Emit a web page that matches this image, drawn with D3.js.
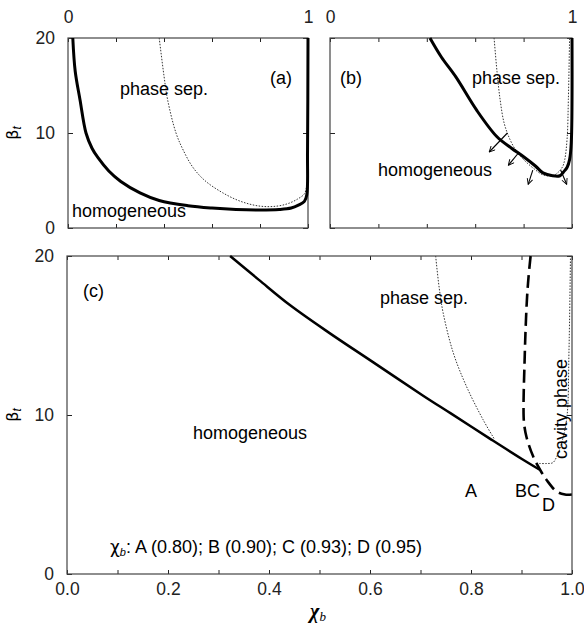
<!DOCTYPE html>
<html>
<head>
<meta charset="utf-8">
<script src="https://cdn.jsdelivr.net/npm/d3@7.9.0/dist/d3.min.js"></script>
<style>
  body { margin: 0; background: #fff; }
  svg { font-family: "Liberation Sans", Arial, sans-serif; }
</style>
</head>
<body>
<svg id="chart" width="584" height="626"></svg>
<script>
// panel (a): spinodal / binodal vs chi_b
const aSolidX = [0.02, 0.03, 0.05, 0.075, 0.10, 0.125, 0.17, 0.22, 0.30, 0.38, 0.50, 0.60, 0.70, 0.80, 0.88, 0.93, 0.96, 0.985, 0.995, 0.998, 1.0];
const aSolidY = [20, 16.5, 13.5, 10, 8.4, 7.4, 6.0, 4.9, 3.7, 2.9, 2.35, 2.1, 1.95, 1.9, 1.95, 2.1, 2.4, 2.8, 3.5, 8, 20];
const aDotX = [0.38, 0.40, 0.415, 0.45, 0.48, 0.52, 0.57, 0.645, 0.72, 0.80, 0.87, 0.92, 0.96, 0.985, 0.995, 1.0];
const aDotY = [20, 16, 13.5, 10, 8.2, 6.4, 5.0, 3.7, 2.8, 2.3, 2.3, 2.6, 3.1, 3.6, 4.5, 6];

// panel (b)
const bSolidX = [0.413, 0.46, 0.52, 0.606, 0.69, 0.75, 0.80, 0.85, 0.88, 0.92, 0.95, 0.965, 0.98, 0.99, 0.997, 1.0];
const bSolidY = [20, 18.0, 15.9, 12.4, 9.6, 8.4, 7.5, 6.5, 5.8, 5.5, 5.5, 5.9, 6.4, 7.2, 9, 20];
const bDotX = [0.678, 0.69, 0.703, 0.72, 0.744, 0.77, 0.80, 0.84, 0.88, 0.92, 0.94, 0.96, 0.97, 0.98, 0.985, 0.99];
const bDotY = [20, 16.5, 13.5, 11, 9.3, 8.1, 7.2, 6.3, 5.6, 5.5, 5.8, 6.4, 7.2, 9.5, 13.5, 20];
// arrows: start chi, start beta, end chi, end beta
const bArrows = [
  [0.733, 10.0, 0.658, 8.0],
  [0.782, 8.0, 0.737, 6.6],
  [0.838, 6.1, 0.819, 4.6],
  [0.953, 6.1, 0.978, 4.6]
];

// panel (c)
const cSolidX = [0.323, 0.38, 0.442, 0.52, 0.6, 0.706, 0.76, 0.838, 0.90, 0.937];
const cSolidY = [20, 18.5, 16.9, 15.15, 13.45, 11.2, 10.1, 8.5, 7.25, 6.54];
const cDashX = [0.918, 0.914, 0.911, 0.908, 0.906, 0.904, 0.905, 0.910, 0.923, 0.937, 0.95, 0.97, 0.986, 1.0];
const cDashY = [20, 18.7, 17.4, 15.3, 13.25, 10.5, 9.5, 8.6, 7.4, 6.54, 5.9, 5.18, 5.0, 5.0];
const cDotX = [0.730, 0.737, 0.745, 0.765, 0.791, 0.824, 0.846];
const cDotY = [20, 18, 16.4, 13.9, 11.8, 9.7, 8.5];
const cCavX = [0.935, 0.95, 0.962, 0.97, 0.98, 0.99, 0.994, 0.997];
const cCavY = [6.95, 6.95, 7.0, 7.4, 8.3, 9.9, 14, 20];

const xTicksTop = [0, 0.2, 0.4, 0.6, 0.8, 1];
const xTicksC = d3.range(0, 11).map(i => i / 10);
const xLabelsC = [0, 0.2, 0.4, 0.6, 0.8, 1.0];
const yTicks = [0, 10, 20];

const svg = d3.select('#chart');
const fs = 18;

svg.append('defs').append('marker')
    .attr('id', 'arrow')
    .attr('viewBox', '0 0 10 10')
    .attr('refX', 9).attr('refY', 5)
    .attr('markerWidth', 7).attr('markerHeight', 7)
    .attr('markerUnits', 'userSpaceOnUse')
    .attr('orient', 'auto')
  .append('path')
    .attr('d', 'M1,1 L9,5 L1,9')
    .attr('fill', 'none')
    .attr('stroke', '#000')
    .attr('stroke-width', 1.3);

const xa = d3.scaleLinear().domain([0, 1]).range([68, 308]);
const xb = d3.scaleLinear().domain([0, 1]).range([330, 572]);
const yab = d3.scaleLinear().domain([0, 20]).range([228, 38]);
const xc = d3.scaleLinear().domain([0, 1]).range([67, 572]);
const yc = d3.scaleLinear().domain([0, 20]).range([574, 256]);

function clean(g) {
    g.select('.domain').remove();
    g.attr('font-size', 17.5).attr('font-family', null).attr('color', '#222');
}

function drawFrame(x, y, xt) {
    let [x0, x1] = x.range();
    let [y0, y1] = y.range();
    svg.append('g').attr('transform', `translate(0,${y0})`)
        .call(d3.axisBottom(x).tickValues(xt).tickSize(-4).tickFormat('')).call(clean);
    svg.append('g').attr('transform', `translate(0,${y1})`)
        .call(d3.axisTop(x).tickValues(xt).tickSize(-4).tickFormat('')).call(clean);
    svg.append('g').attr('transform', `translate(${x0},0)`)
        .call(d3.axisLeft(y).tickValues(yTicks).tickSize(-5).tickFormat('')).call(clean);
    svg.append('g').attr('transform', `translate(${x1},0)`)
        .call(d3.axisRight(y).tickValues(yTicks).tickSize(-5).tickFormat('')).call(clean);
    svg.append('rect')
        .attr('x', x0).attr('y', y1)
        .attr('width', x1 - x0).attr('height', y0 - y1)
        .attr('fill', 'none').attr('stroke', '#444').attr('stroke-width', 1.2);
}

function yLabels(x, y) {
    svg.append('g').attr('transform', `translate(${x.range()[0]},0)`)
        .call(d3.axisLeft(y).tickValues(yTicks).tickSize(0).tickPadding(13).tickFormat(d3.format('d')))
        .call(clean);
}

function curve(x, y, xs, ys, style) {
    let pts = xs.map((d, i) => [d, ys[i]]);
    let line = d3.line().x(d => x(d[0])).y(d => y(d[1])).curve(d3.curveCatmullRom.alpha(0.5));
    let p = svg.append('path')
        .attr('d', line(pts))
        .attr('fill', 'none')
        .attr('stroke', '#000')
        .attr('stroke-linejoin', 'round');
    if (style === 'thick') p.attr('stroke-width', 3);
    if (style === 'solid') p.attr('stroke-width', 2.5);
    if (style === 'dash') p.attr('stroke-width', 2.6).attr('stroke-dasharray', '13,6');
    if (style === 'dot') p.attr('stroke-width', 1).attr('stroke', '#333').attr('stroke-dasharray', '1.5,1.5');
}

function label(x, y, txt, anchor) {
    return svg.append('text').attr('x', x).attr('y', y)
        .attr('font-size', fs).attr('text-anchor', anchor || 'start').text(txt);
}

function betaLabel(cy) {
    let t = svg.append('text')
        .attr('transform', `translate(18,${cy}) rotate(-90)`)
        .attr('text-anchor', 'middle')
        .attr('font-size', fs);
    t.append('tspan').attr('font-family', '"DejaVu Sans", sans-serif').attr('font-size', 16).text('β');
    t.append('tspan').attr('font-style', 'italic').attr('font-size', 12).attr('dy', 3).text('t');
}

// ---- panel (a)
drawFrame(xa, yab, xTicksTop);
yLabels(xa, yab);
svg.append('g').attr('transform', `translate(0,${yab.range()[1]})`)
    .call(d3.axisTop(xa).tickValues([0, 1]).tickSize(0).tickPadding(15).tickFormat(d3.format('d')))
    .call(clean);
curve(xa, yab, aDotX, aDotY, 'dot');
curve(xa, yab, aSolidX, aSolidY, 'thick');
label(120, 95, 'phase sep.');
label(270, 84, '(a)');
label(72, 217, 'homogeneous');
betaLabel(133);

// ---- panel (b)
drawFrame(xb, yab, xTicksTop);
svg.append('g').attr('transform', `translate(0,${yab.range()[1]})`)
    .call(d3.axisTop(xb).tickValues([0, 1]).tickSize(0).tickPadding(15).tickFormat(d3.format('d')))
    .call(clean);
curve(xb, yab, bDotX, bDotY, 'dot');
curve(xb, yab, bSolidX, bSolidY, 'thick');
svg.selectAll('line.arr')
    .data(bArrows)
    .join('line')
    .attr('class', 'arr')
    .attr('x1', d => xb(d[0])).attr('y1', d => yab(d[1]))
    .attr('x2', d => xb(d[2])).attr('y2', d => yab(d[3]))
    .attr('stroke', '#000').attr('stroke-width', 1.1)
    .attr('marker-end', 'url(#arrow)');
label(340, 84, '(b)');
label(472, 84, 'phase sep.');
label(378, 176, 'homogeneous');

// ---- panel (c)
drawFrame(xc, yc, xTicksC);
yLabels(xc, yc);
svg.append('g').attr('transform', `translate(0,${yc.range()[0]})`)
    .call(d3.axisBottom(xc).tickValues(xLabelsC).tickSize(0).tickPadding(9).tickFormat(d3.format('.1f')))
    .call(clean);
curve(xc, yc, cDotX, cDotY, 'dot');
curve(xc, yc, cCavX, cCavY, 'dot');
curve(xc, yc, cSolidX, cSolidY, 'solid');
curve(xc, yc, cDashX, cDashY, 'dash');
label(83, 297, '(c)');
label(380, 304, 'phase sep.');
label(193, 439, 'homogeneous');
label(465, 497, 'A');
label(515, 497, 'BC');
label(542, 511, 'D');
svg.append('text')
    .attr('transform', 'translate(567,409) rotate(-90)')
    .attr('text-anchor', 'middle')
    .attr('font-size', fs)
    .text('cavity phase');
betaLabel(415);

let leg = svg.append('text').attr('x', 110).attr('y', 553).attr('font-size', fs);
leg.append('tspan').attr('font-family', '"DejaVu Sans", sans-serif').attr('font-size', 17).text('χ');
leg.append('tspan').attr('font-style', 'italic').attr('font-size', 11).attr('dy', 3).text('b');
leg.append('tspan').attr('dy', -3).text(': A (0.80); B (0.90); C (0.93); D (0.95)');

let xl = svg.append('text').attr('x', 318).attr('y', 618)
    .attr('text-anchor', 'middle')
    .attr('font-family', '"Liberation Serif", serif')
    .attr('font-size', 20);
xl.append('tspan').attr('font-weight', 'bold').attr('font-style', 'italic').text('χ');
xl.append('tspan').attr('font-style', 'italic').attr('font-size', 13).attr('dy', 3).text('b');
</script>
</body>
</html>
